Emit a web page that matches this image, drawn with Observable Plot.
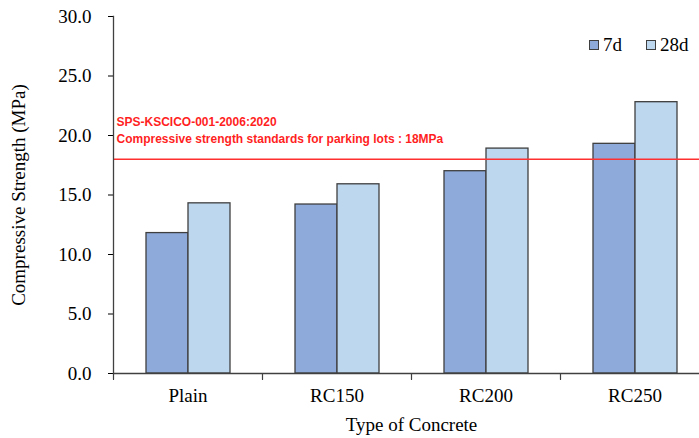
<!DOCTYPE html>
<html>
<head>
<meta charset="utf-8">
<script src="https://cdn.jsdelivr.net/npm/d3@7"></script>
<script src="https://cdn.jsdelivr.net/npm/@observablehq/plot@0.6"></script>
<style>
  html, body { margin: 0; padding: 0; background: #fff; overflow: hidden; }
  #wrap { position: relative; width: 699px; height: 438px; overflow: hidden; }
  #legend { position: absolute; left: 589px; top: 35px; display: flex; align-items: center;
    font-family: 'Liberation Serif', 'Times New Roman', serif; font-size: 19px; line-height: 1; color: #000; }
  .item { display: inline-flex; align-items: center; margin-right: 24px; }
  .sw { width: 8px; height: 8px; border: 1px solid #3f3f3f; margin-right: 4px; }
</style>
</head>
<body>
<div id="wrap"><div id="legend"></div></div>
<script>
const categories = ["Plain", "RC150", "RC200", "RC250"];
const ages = ["7d", "28d"];
const strength7d = [11.8, 14.2, 17.0, 19.3];
const strength28d = [14.3, 15.9, 18.9, 22.8];
const ageColors = ["#8eaadb", "#bdd7ee"];
const yTicks = [0, 5, 10, 15, 20, 25, 30];
const standard = 18.0;
const standardNote = "SPS-KSCICO-001-2006:2020\nCompressive strength standards for parking lots : 18MPa";

const rows = categories.flatMap((c, i) => [
  {category: c, age: ages[0], strength: strength7d[i]},
  {category: c, age: ages[1], strength: strength28d[i]}
]);

const chart = Plot.plot({
  width: 710,
  height: 438,
  marginLeft: 111,
  marginRight: 0,
  marginTop: 16,
  marginBottom: 65,
  style: {fontFamily: "'Liberation Serif', 'Times New Roman', serif", fontSize: "19px", color: "#000", background: "white", maxWidth: "none"},
  fx: {domain: categories, padding: 0, tickSize: 0, tickPadding: 15, label: "Type of Concrete", labelAnchor: "center", labelOffset: 57, axis: "bottom"},
  x: {domain: ages, paddingInner: 0, paddingOuter: 0.74, axis: null},
  y: {domain: [0, 30], ticks: yTicks, tickFormat: d3.format(".1f"), tickSize: 5, tickPadding: 17,
      label: "Compressive Strength (MPa)", labelAnchor: "center", labelOffset: 102, labelArrow: "none"},
  color: {domain: ages, range: ageColors},
  marks: [
    Plot.barY(rows, {fx: "category", x: "age", y: "strength", fill: "age", stroke: "#3f3f3f", strokeWidth: 1.3}),
    Plot.ruleY([standard], {stroke: "#ff3030", strokeWidth: 1.4}),
    Plot.text([standardNote], {fx: () => categories[0], y: () => standard, text: d => d,
      frameAnchor: "left", textAnchor: "start", lineAnchor: "middle", lineHeight: 1.45,
      dx: 3, dy: -30.5, fill: "#ff1f1f", fontFamily: "'Liberation Sans', Arial, sans-serif",
      fontWeight: "bold", fontSize: 12}),
    Plot.ruleY([0], {stroke: "#404040", strokeWidth: 1.3}),
    Plot.frame({anchor: "left", fx: () => categories[0], stroke: "#404040", strokeWidth: 1.3}),
    Plot.vector(categories, {fx: d => d, frameAnchor: "bottom-left", length: 6, rotate: 180,
      anchor: "start", r: 0, stroke: "#404040", strokeWidth: 1.2})
  ]
});

document.getElementById("wrap").prepend(chart);

const legend = document.getElementById("legend");
ages.forEach((a, i) => {
  const item = document.createElement("span");
  item.className = "item";
  const sw = document.createElement("span");
  sw.className = "sw";
  sw.style.background = ageColors[i];
  const t = document.createElement("span");
  t.textContent = a;
  item.append(sw, t);
  legend.append(item);
});
</script>
</body>
</html>
